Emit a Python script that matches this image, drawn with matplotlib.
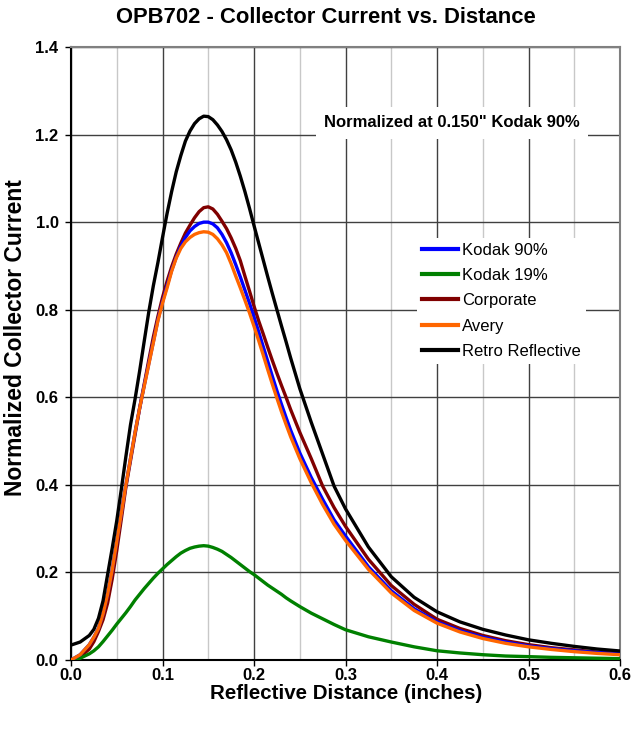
import matplotlib
matplotlib.use('Agg')
import matplotlib.pyplot as plt
from matplotlib.ticker import MultipleLocator

plt.rcParams['font.family'] = ['Liberation Sans', 'DejaVu Sans']

# distance (inches)
dist = [0, 0.01, 0.02, 0.025, 0.03, 0.035, 0.04, 0.045, 0.05, 0.055,
        0.06, 0.065, 0.07, 0.075, 0.08, 0.085, 0.09, 0.095, 0.1, 0.105,
        0.11, 0.115, 0.12, 0.125, 0.13, 0.135, 0.14, 0.145, 0.15, 0.155,
        0.16, 0.165, 0.17, 0.175, 0.18, 0.185, 0.19, 0.195, 0.2, 0.205,
        0.21, 0.215, 0.22, 0.225, 0.23, 0.235, 0.24,
        0.25, 0.2625, 0.275, 0.2875, 0.3, 0.325, 0.35, 0.375, 0.4, 0.425,
        0.45, 0.475, 0.5, 0.525, 0.55, 0.575, 0.6]

kodak90 = [0.0, 0.012, 0.035, 0.052, 0.072, 0.105, 0.15, 0.205, 0.27, 0.335,
           0.40, 0.46, 0.52, 0.575, 0.627, 0.677, 0.727, 0.777, 0.818, 0.855,
           0.89, 0.92, 0.945, 0.965, 0.98, 0.99, 0.997, 1.0, 1.0, 0.996,
           0.987, 0.972, 0.953, 0.93, 0.903, 0.875, 0.845, 0.815, 0.783, 0.75,
           0.716, 0.682, 0.648, 0.615, 0.584, 0.554, 0.525,
           0.473, 0.417, 0.367, 0.32, 0.283, 0.213, 0.158, 0.117, 0.087, 0.067,
           0.052, 0.041, 0.032, 0.026, 0.021, 0.017, 0.014]

kodak19 = [0.0, 0.004, 0.014, 0.021, 0.03, 0.042, 0.055, 0.068, 0.082, 0.095,
           0.108, 0.122, 0.137, 0.15, 0.163, 0.175, 0.187, 0.198, 0.208, 0.218,
           0.227, 0.236, 0.244, 0.25, 0.255, 0.258, 0.26, 0.261, 0.26, 0.257,
           0.253, 0.248, 0.241, 0.234, 0.226, 0.218, 0.21, 0.202, 0.195, 0.187,
           0.179, 0.171, 0.164, 0.157, 0.15, 0.142, 0.135,
           0.122, 0.107, 0.094, 0.081, 0.069, 0.053, 0.041, 0.030, 0.021, 0.016,
           0.012, 0.009, 0.0076, 0.006, 0.005, 0.004, 0.003]

corporate = [0.0, 0.007, 0.025, 0.042, 0.065, 0.092, 0.13, 0.185, 0.25, 0.322,
             0.395, 0.455, 0.515, 0.575, 0.63, 0.685, 0.738, 0.785, 0.828, 0.865,
             0.898, 0.927, 0.952, 0.975, 0.993, 1.01, 1.024, 1.033, 1.035, 1.03,
             1.018, 1.002, 0.985, 0.964, 0.94, 0.912, 0.877, 0.843, 0.808, 0.775,
             0.745, 0.714, 0.684, 0.655, 0.627, 0.60, 0.572,
             0.52, 0.46, 0.397, 0.348, 0.305, 0.23, 0.17, 0.127, 0.093, 0.072,
             0.056, 0.044, 0.035, 0.028, 0.023, 0.018, 0.015]

avery = [0.0, 0.012, 0.035, 0.052, 0.072, 0.105, 0.15, 0.205, 0.27, 0.335,
         0.40, 0.46, 0.52, 0.575, 0.625, 0.675, 0.725, 0.775, 0.815, 0.85,
         0.888, 0.918, 0.94, 0.955, 0.965, 0.972, 0.976, 0.978, 0.977, 0.972,
         0.962, 0.948, 0.93, 0.905, 0.877, 0.85, 0.822, 0.793, 0.762, 0.73,
         0.697, 0.663, 0.63, 0.598, 0.567, 0.538, 0.51,
         0.46, 0.405, 0.355, 0.31, 0.273, 0.207, 0.153, 0.113, 0.084, 0.064,
         0.049, 0.038, 0.030, 0.024, 0.019, 0.015, 0.012]

retro = [0.034, 0.041, 0.056, 0.07, 0.095, 0.135, 0.195, 0.255, 0.318, 0.39,
         0.465, 0.537, 0.596, 0.66, 0.728, 0.795, 0.855, 0.908, 0.965, 1.02,
         1.07, 1.115, 1.152, 1.185, 1.208, 1.225, 1.236, 1.242, 1.241, 1.234,
         1.222, 1.207, 1.188, 1.165, 1.137, 1.105, 1.07, 1.032, 0.992, 0.953,
         0.914, 0.875, 0.837, 0.80, 0.763, 0.727, 0.69,
         0.62, 0.543, 0.47, 0.397, 0.345, 0.258, 0.19, 0.143, 0.110, 0.087,
         0.07, 0.057, 0.046, 0.038, 0.031, 0.025, 0.0205]

fig = plt.figure(figsize=(6.34, 7.32), dpi=100)
ax = fig.add_axes([0.112, 0.0984, 0.866, 0.8374])

lw = 2.4
ax.plot(dist, kodak90, color='#0000ff', lw=lw, label='Kodak 90%', zorder=5)
ax.plot(dist, kodak19, color='#008000', lw=lw, label='Kodak 19%', zorder=4)
ax.plot(dist, corporate, color='#800000', lw=lw, label='Corporate', zorder=3)
ax.plot(dist, avery, color='#ff6600', lw=lw, label='Avery', zorder=6)
ax.plot(dist, retro, color='black', lw=lw, label='Retro Reflective', zorder=7)

ax.set_xlim(0, 0.6)
ax.set_ylim(0, 1.4)
ax.xaxis.set_major_locator(MultipleLocator(0.1))
ax.xaxis.set_minor_locator(MultipleLocator(0.05))
ax.yaxis.set_major_locator(MultipleLocator(0.2))
ax.grid(which='major', color='#404040', lw=1.0)
ax.grid(which='minor', axis='x', color='#c8c8c8', lw=1.0)
ax.set_axisbelow(True)
ax.tick_params(which='minor', length=0)
ax.tick_params(which='major', direction='out', length=4.5, width=1, labelsize=12)
ax.tick_params(axis='x', pad=1.5)
ax.tick_params(axis='y', pad=4.5)
for lab in ax.get_xticklabels() + ax.get_yticklabels():
    lab.set_fontweight('bold')
ax.xaxis.set_major_formatter(lambda v, p: f'{v:.1f}')
ax.yaxis.set_major_formatter(lambda v, p: f'{v:.1f}')

for s in ['top', 'right']:
    ax.spines[s].set_color('#808080')
    ax.spines[s].set_linewidth(1.5)
for s in ['left', 'bottom']:
    ax.spines[s].set_color('black')
    ax.spines[s].set_linewidth(1.5)

ax.set_xlabel('Reflective Distance (inches)', fontsize=14.8, fontweight='bold')
ax.xaxis.set_label_coords(0.501, -0.040)
ax.set_ylabel('Normalized Collector Current', fontsize=16.5, fontweight='bold')
ax.yaxis.set_label_coords(-0.08, 0.526)
fig.text(0.514, 0.976, 'OPB702 - Collector Current vs. Distance',
         fontsize=15.8, fontweight='bold', ha='center', va='center')

ax.text(0.4164, 1.227, 'Normalized at 0.150" Kodak 90%', fontsize=12, fontweight='bold',
        ha='center', va='center', zorder=8,
        bbox=dict(facecolor='white', edgecolor='none', pad=6))

leg = ax.legend(loc='upper left', bbox_to_anchor=(0.630, 0.689), frameon=True,
                fontsize=12, handlelength=2.15, handletextpad=0.25, labelspacing=0.62,
                borderpad=0.3, borderaxespad=0, fancybox=False)
leg.get_frame().set_edgecolor('none')
leg.get_frame().set_facecolor('white')
leg.get_frame().set_alpha(1)
leg.set_zorder(9)
for line in leg.get_lines():
    line.set_linewidth(3)

fig.savefig('out.png', dpi=100, facecolor='white')
